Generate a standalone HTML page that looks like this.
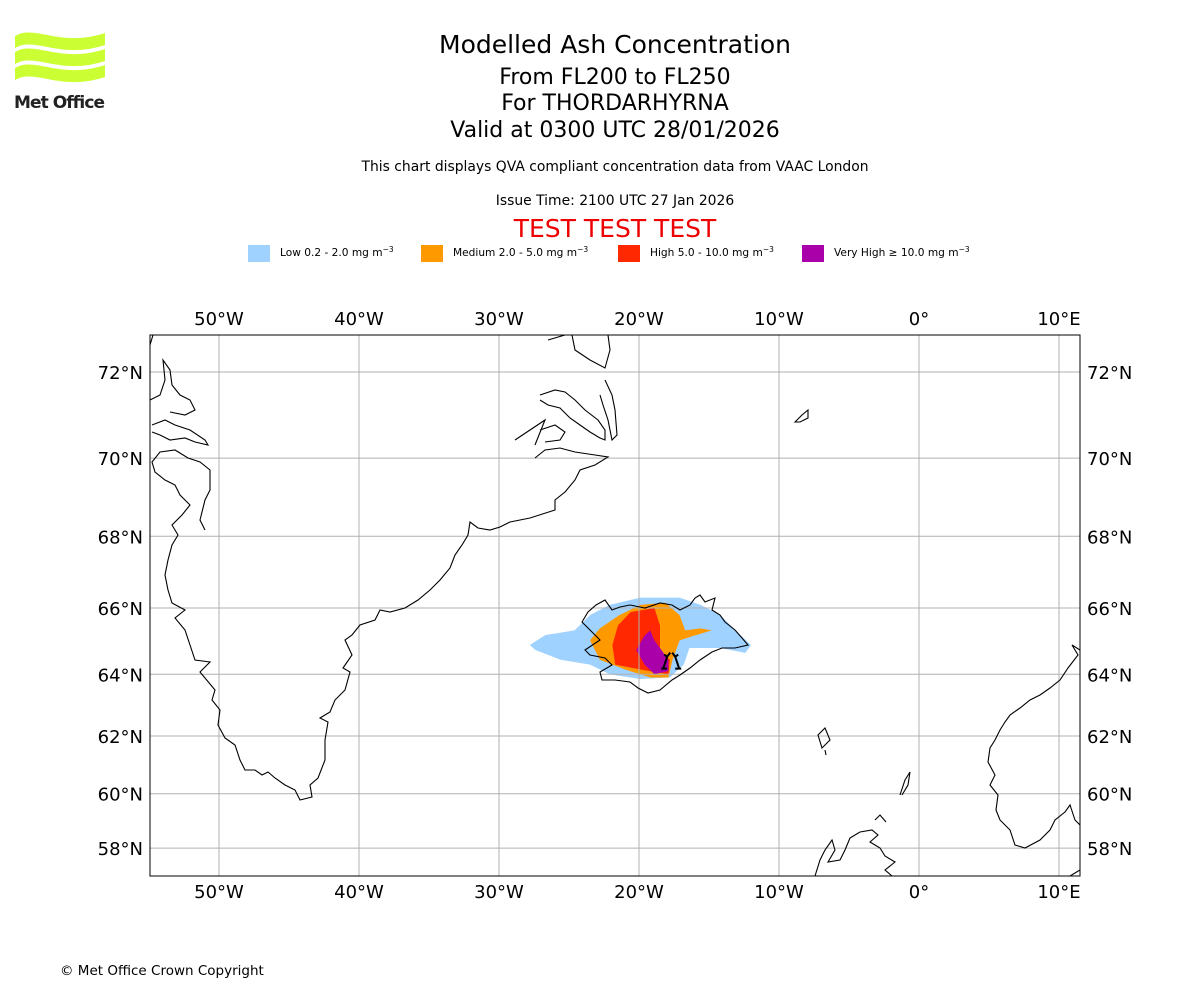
<!DOCTYPE html>
<html><head><meta charset="utf-8"><style>
body{margin:0;background:#fff;width:1200px;height:1000px;overflow:hidden;font-family:"DejaVu Sans","Liberation Sans",sans-serif;}
svg text{font-family:"DejaVu Sans","Liberation Sans",sans-serif;}
</style></head><body>
<svg id="chart" width="1200" height="1000" viewBox="0 0 1200 1000">
<g>
<path d="M15,36 C35,24 60,48 105,33 L105,45 C60,60 35,36 15,48Z" fill="#ccff33"/>
<path d="M15,52 C35,40 60,64 105,49 L105,61 C60,76 35,52 15,64Z" fill="#ccff33"/>
<path d="M15,68 C35,56 60,80 105,65 L105,77 C60,92 35,68 15,80Z" fill="#ccff33"/>
<text x="14" y="108" font-size="17" font-weight="bold" fill="#222" textLength="91">Met Office</text>
</g>
<g text-anchor="middle">
<text x="615" y="53" font-size="25">Modelled Ash Concentration</text>
<text x="615" y="84" font-size="22">From FL200 to FL250</text>
<text x="615" y="110" font-size="22">For THORDARHYRNA</text>
<text x="615" y="137" font-size="22">Valid at 0300 UTC 28/01/2026</text>
<text x="615" y="171" font-size="13.9">This chart displays QVA compliant concentration data from VAAC London</text>
<text x="615" y="205" font-size="13.9">Issue Time: 2100 UTC 27 Jan 2026</text>
<text x="615" y="237" font-size="25" fill="#ee0000">TEST TEST TEST</text>
</g>
<g id="legend" font-size="10.6"></g>
<g id="map"></g>
<text x="60" y="975" font-size="13.5">© Met Office Crown Copyright</text>
</svg>
<script>
const lonTicks=[-50,-40,-30,-20,-10,0,10];
const lonLabels=["50°W","40°W","30°W","20°W","10°W","0°","10°E"];
const latTicks=[72,70,68,66,64,62,60,58];
const latLabels=["72°N","70°N","68°N","66°N","64°N","62°N","60°N","58°N"];
const levelNames=["Low 0.2 - 2.0 mg m","Medium 2.0 - 5.0 mg m","High 5.0 - 10.0 mg m","Very High \u2265 10.0 mg m"];
const levelColors=["#a0d2ff","#ff9900","#ff2800","#aa00aa"];
const ashLow=[[-27.8,64.9],[-26.7,65.2],[-24.6,65.34],[-23.5,65.79],[-22.1,66.09],[-19.9,66.3],[-17.1,66.3],[-15.6,66.09],[-14.2,65.79],[-13.1,65.34],[-12.0,64.9],[-12.4,64.66],[-14.2,64.81],[-16.4,64.81],[-16.8,64.3],[-17.8,63.9],[-19.9,63.85],[-22.1,64.0],[-23.5,64.3],[-25.6,64.45],[-27.4,64.75]];
const ashMedium=[[-23.5,65.04],[-22.8,65.4],[-21.4,65.79],[-19.9,66.09],[-18.1,66.15],[-17.1,65.79],[-16.7,65.34],[-15.6,65.4],[-14.8,65.34],[-16.0,65.19],[-17.1,65.04],[-17.6,64.45],[-17.9,63.9],[-19.2,63.9],[-21.0,64.15],[-22.8,64.45]];
const ashHigh=[[-21.9,64.9],[-21.5,65.49],[-20.6,65.88],[-18.9,66.0],[-18.5,65.49],[-18.5,64.75],[-17.8,64.45],[-17.9,64.0],[-19.9,64.15],[-21.7,64.3]];
const ashVeryHigh=[[-20.2,64.75],[-19.6,65.19],[-19.2,65.34],[-18.9,65.04],[-18.5,64.81],[-17.9,64.45],[-17.9,64.1],[-18.9,64.0],[-19.6,64.3]];
const NS="http://www.w3.org/2000/svg";
const X0=150,X1=1080,Y0=335,Y1=876,PX=14,R=PX*180/Math.PI;
const merc=l=>Math.log(Math.tan(Math.PI/4+l*Math.PI/360));
const xs=lon=>919+lon*PX;
const ys=lat=>372-R*(merc(lat)-merc(72));
function mk(tag,attrs,parent){const e=document.createElementNS(NS,tag);for(const k in attrs)e.setAttribute(k,attrs[k]);parent.appendChild(e);return e;}
const map=document.getElementById('map');
const lg=document.getElementById('legend');
const lgX=[248,421,618,802];
levelNames.forEach((n,i)=>{
 const r=mk('rect',{x:lgX[i],y:245,width:22,height:17,fill:levelColors[i]},lg);
 
 
 const t=mk('text',{x:lgX[i]+32,y:256},lg);
 
 
 t.textContent=n;
 const s=mk('tspan',{dy:-4,'font-size':7.5},t);s.textContent="\u22123";
});
const defs=mk('defs',{},map);
const cp=mk('clipPath',{id:'mclip'},defs);
mk('rect',{x:X0,y:Y0,width:X1-X0,height:Y1-Y0},cp);
const inner=mk('g',{'clip-path':'url(#mclip)'},map);
[ashLow,ashMedium,ashHigh,ashVeryHigh].forEach((poly,i)=>{
 const p=mk('polygon',{points:poly.map(q=>xs(q[0])+','+ys(q[1])).join(' '),fill:levelColors[i]},inner);
 
 
});
lonTicks.forEach((l,i)=>{const x=xs(l);
 const g=mk('line',{x1:x,x2:x,y1:Y0,y2:Y1,stroke:'#b0b0b0','stroke-width':1},inner);
 
 [Y0-10,Y1+22].forEach(y=>{const t=mk('text',{x:x,y:y,'font-size':18,'text-anchor':'middle'},map);
 t.textContent=lonLabels[i];});
});
latTicks.forEach((l,i)=>{const y=ys(l);
 const g=mk('line',{x1:X0,x2:X1,y1:y,y2:y,stroke:'#b0b0b0','stroke-width':1},inner);
 
 const t1=mk('text',{x:X0-7,y:y+7,'font-size':18,'text-anchor':'end'},map);
 t1.textContent=latLabels[i];
 const t2=mk('text',{x:X1+7,y:y+7,'font-size':18},map);
 t2.textContent=latLabels[i];
});
const coasts=[
"M150,345 L153,335 M548,340 L565,335 M572,335 L575,350 L590,360 L605,368 L610,350 L608,335",
"M535,458 L545,450 L560,448 L575,452 L595,455 L608,457 L595,465 L580,470 L575,480 L565,492 L555,500 L555,510 L530,518 L510,522 L500,527 L490,530 L478,528 L470,522 L468,535 L462,545 L455,555 L450,568 L440,580 L430,590 L418,600 L405,608 L390,612 L380,610 L375,620 L360,625 L352,635 L345,640 L352,655 L343,668 L350,672 L345,690 L335,700 L330,712 L320,718 L328,722 L325,740 L325,760 L318,778 L310,785 L312,797 L300,800 L295,790 L285,785 L275,778 L268,772 L262,775 L255,770 L245,770 L240,760 L235,745 L225,738 L218,725 L220,710 L212,700 L215,690 L200,672 L210,662 L195,660 L190,645 L185,630 L175,618 L185,610 L172,603 L168,590 L165,575 L168,560 L172,545 L178,535 L172,525 L182,515 L190,505 L180,495 L175,485 L165,480 L155,472 L152,462 L160,452 L175,450 L188,458 L200,462 L210,470 L210,490 L205,500 L200,520 L205,530",
"M152,425 L165,420 L175,425 L190,430 L205,440 L208,445 L195,442 L185,438 L170,440 L160,435 L152,432",
"M150,400 L160,395 L165,380 L163,360 L170,370 L172,385 L180,395 L190,400 L195,410 L185,415 L170,412",
"M540,430 L555,425 L565,432 L560,440 L545,442 M515,440 L530,430 L545,420 L535,445",
"M540,395 L555,390 L565,392 L575,400 L585,410 L598,420 L605,430 L605,440 L600,438 L590,432 L580,425 L570,418 L560,408 L548,405 L540,400",
"M605,380 L612,395 L615,410 L617,435 L612,440 L608,420 L603,405 L600,395",
"M585,650 L600,640 L590,630 L582,622 L588,612 L596,605 L605,600 L612,610 L620,607 L630,605 L645,608 L660,603 L672,605 L680,610 L690,605 L695,598 L700,595 L705,602 L715,598 L712,610 L720,615 L725,622 L735,630 L742,638 L748,645 L735,648 L722,648 L712,652 L700,660 L690,668 L680,675 L672,680 L660,690 L648,693 L638,688 L630,682 L615,680 L602,680 L600,672 L612,665 L605,658 L590,655 Z",
"M795,422 L802,415 L808,410 L808,418 L800,422 Z M818,735 L825,728 L830,740 L822,748 Z M825,750 L826,755",
"M815,876 L820,860 L825,850 L832,840 L835,850 L828,862 L840,860 L845,850 L850,838 L860,832 L872,830 L878,835 L870,842 L880,848 L885,856 L895,862 L885,870 L892,876 M875,820 L880,815 L886,822 M900,795 L905,780 L910,772 L908,785 L902,795",
"M1080,870 L1070,876 M1080,650 L1072,645 L1078,655 L1068,668 L1060,680 L1050,688 L1040,695 L1030,700 L1020,708 L1010,715 L1005,722 L1000,730 L995,740 L990,748 L988,762 L995,775 L990,785 L998,795 L996,810 L1000,820 L1010,830 L1015,845 L1025,848 L1040,840 L1050,830 L1055,820 L1065,812 L1070,805 L1075,820 L1080,825"
];
coasts.forEach(d=>{const p=mk('path',{d:d,fill:'none',stroke:'#000','stroke-width':1.1},inner);
 });
const vx=xs(-17.7),vy=ys(64.3);
const vs=mk('path',{d:`M${vx-8},${vy+4} L${vx-4},${vy-8} M${vx+8},${vy+4} L${vx+4},${vy-8} M${vx-10},${vy+4} L${vx-4},${vy+4} M${vx+4},${vy+4} L${vx+10},${vy+4} M${vx-7},${vy-10} L${vx-4},${vy-8} L${vx-1},${vy-12} M${vx+7},${vy-10} L${vx+4},${vy-8} L${vx+1},${vy-12}`,fill:'none',stroke:'#000','stroke-width':2},inner);


const fr=mk('rect',{x:X0,y:Y0,width:X1-X0,height:Y1-Y0,fill:'none',stroke:'#000','stroke-width':1},map);


</script>
</body></html>
